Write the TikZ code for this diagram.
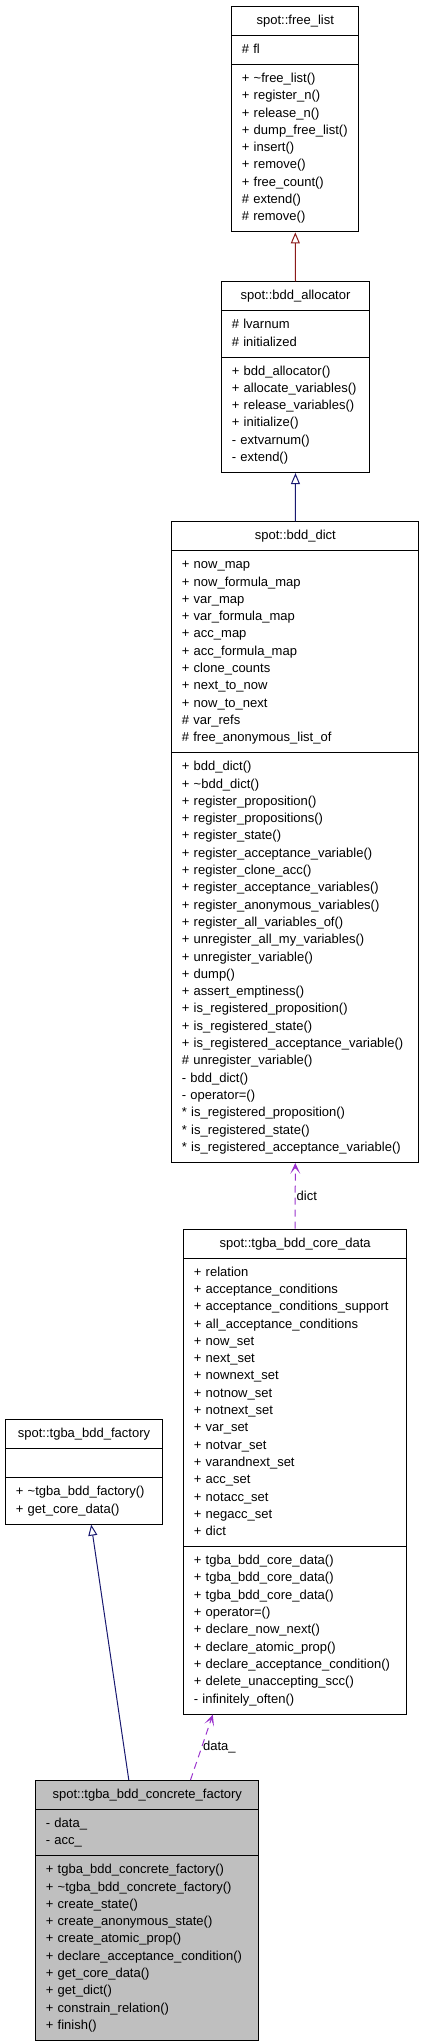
\documentclass[tikz,border=0pt]{standalone}
\usepackage{fontspec}
\setmainfont{Liberation Sans}
\usetikzlibrary{shapes.multipart,arrows.meta}

\definecolor{firebrick}{HTML}{8B1A1A}
\definecolor{midnight}{HTML}{191970}
\definecolor{orchid}{HTML}{9A32CD}
\definecolor{boxgray}{HTML}{BFBFBF}

\tikzset{
  classbox/.style={draw, line width=1pt, rectangle split, rectangle split parts=3,
    anchor=north west, text width=#1, align=left, inner xsep=10pt, inner ysep=5.35pt,
    font=\fontsize{13}{17.3}\selectfont},
  inherit/.style={draw=#1, line width=1pt, -{Triangle[open,length=11pt,width=9pt]}},
  uses/.style={draw=orchid, line width=1pt, dash pattern=on 7pt off 5pt,
    -{Stealth[length=11pt,width=10pt,inset=6pt]}},
  edgelabel/.style={right, inner sep=1pt, font=\fontsize{13}{17.3}\selectfont}
}
\newcommand{\ttl}[1]{\hbox to\hsize{\hfil\strut#1\hfil}}

\begin{document}
\begin{tikzpicture}[x=1pt,y=-1pt]
\useasboundingbox (0,0) rectangle (423,2043);

% the base classes
\node[classbox=107pt] (freelist) at (231.3,6) {\ttl{spot::free\_list}
  \nodepart{two}\strut\# fl\strut
  \nodepart{three}\strut+ \textasciitilde free\_list()\\
  + register\_n()\\
  + release\_n()\\
  + dump\_free\_list()\\
  + insert()\\
  + remove()\\
  + free\_count()\\
  \# extend()\\
  \# remove()\strut};

\node[classbox=127.4pt] (allocator) at (221.3,281.3) {\ttl{spot::bdd\_allocator}
  \nodepart{two}\strut\# lvarnum\\
  \# initialized\strut
  \nodepart{three}\strut+ bdd\_allocator()\\
  + allocate\_variables()\\
  + release\_variables()\\
  + initialize()\\
  - extvarnum()\\
  - extend()\strut};

\node[classbox=227pt] (dict) at (171.3,521.3) {\ttl{spot::bdd\_dict}
  \nodepart{two}\strut+ now\_map\\
  + now\_formula\_map\\
  + var\_map\\
  + var\_formula\_map\\
  + acc\_map\\
  + acc\_formula\_map\\
  + clone\_counts\\
  + next\_to\_now\\
  + now\_to\_next\\
  \# var\_refs\\
  \# free\_anonymous\_list\_of\strut
  \nodepart{three}\strut+ bdd\_dict()\\
  + \textasciitilde bdd\_dict()\\
  + register\_proposition()\\
  + register\_propositions()\\
  + register\_state()\\
  + register\_acceptance\_variable()\\
  + register\_clone\_acc()\\
  + register\_acceptance\_variables()\\
  + register\_anonymous\_variables()\\
  + register\_all\_variables\_of()\\
  + unregister\_all\_my\_variables()\\
  + unregister\_variable()\\
  + dump()\\
  + assert\_emptiness()\\
  + is\_registered\_proposition()\\
  + is\_registered\_state()\\
  + is\_registered\_acceptance\_variable()\\
  \# unregister\_variable()\\
  - bdd\_dict()\\
  - operator=()\\
  {*} is\_registered\_proposition()\\
  {*} is\_registered\_state()\\
  {*} is\_registered\_acceptance\_variable()\strut};

\node[classbox=202.7pt] (coredata) at (183.3,1228.7) {\ttl{spot::tgba\_bdd\_core\_data}
  \nodepart{two}\strut+ relation\\
  + acceptance\_conditions\\
  + acceptance\_conditions\_support\\
  + all\_acceptance\_conditions\\
  + now\_set\\
  + next\_set\\
  + nownext\_set\\
  + notnow\_set\\
  + notnext\_set\\
  + var\_set\\
  + notvar\_set\\
  + varandnext\_set\\
  + acc\_set\\
  + notacc\_set\\
  + negacc\_set\\
  + dict\strut
  \nodepart{three}\strut+ tgba\_bdd\_core\_data()\\
  + tgba\_bdd\_core\_data()\\
  + tgba\_bdd\_core\_data()\\
  + operator=()\\
  + declare\_now\_next()\\
  + declare\_atomic\_prop()\\
  + declare\_acceptance\_condition()\\
  + delete\_unaccepting\_scc()\\
  - infinitely\_often()\strut};

\node[classbox=136.4pt] (factory) at (5.3,1419.3) {\ttl{spot::tgba\_bdd\_factory}
  \nodepart{two}\strut
  \nodepart{three}\strut+ \textasciitilde tgba\_bdd\_factory()\\
  + get\_core\_data()\strut};

% the class itself
\node[classbox=203pt, fill=boxgray] (concrete) at (35.3,1780) {\ttl{spot::tgba\_bdd\_concrete\_factory}
  \nodepart{two}\strut- data\_\\
  - acc\_\strut
  \nodepart{three}\strut+ tgba\_bdd\_concrete\_factory()\\
  + \textasciitilde tgba\_bdd\_concrete\_factory()\\
  + create\_state()\\
  + create\_anonymous\_state()\\
  + create\_atomic\_prop()\\
  + declare\_acceptance\_condition()\\
  + get\_core\_data()\\
  + get\_dict()\\
  + constrain\_relation()\\
  + finish()\strut};

% inheritance
\draw[inherit=firebrick] (allocator.north) -- (freelist.south);
\draw[inherit=midnight] (dict.north) -- (allocator.south);
\draw[inherit=midnight] ([xshift=-18.5pt]concrete.north) -- ([xshift=7.2pt]factory.south);

% usage
\draw[uses] (coredata.north) -- node[edgelabel] {dict} (dict.south);
\draw[uses] ([xshift=43.2pt]concrete.north) -- node[edgelabel] {data\_} ([xshift=-82.35pt]coredata.south);

\end{tikzpicture}
\end{document}
